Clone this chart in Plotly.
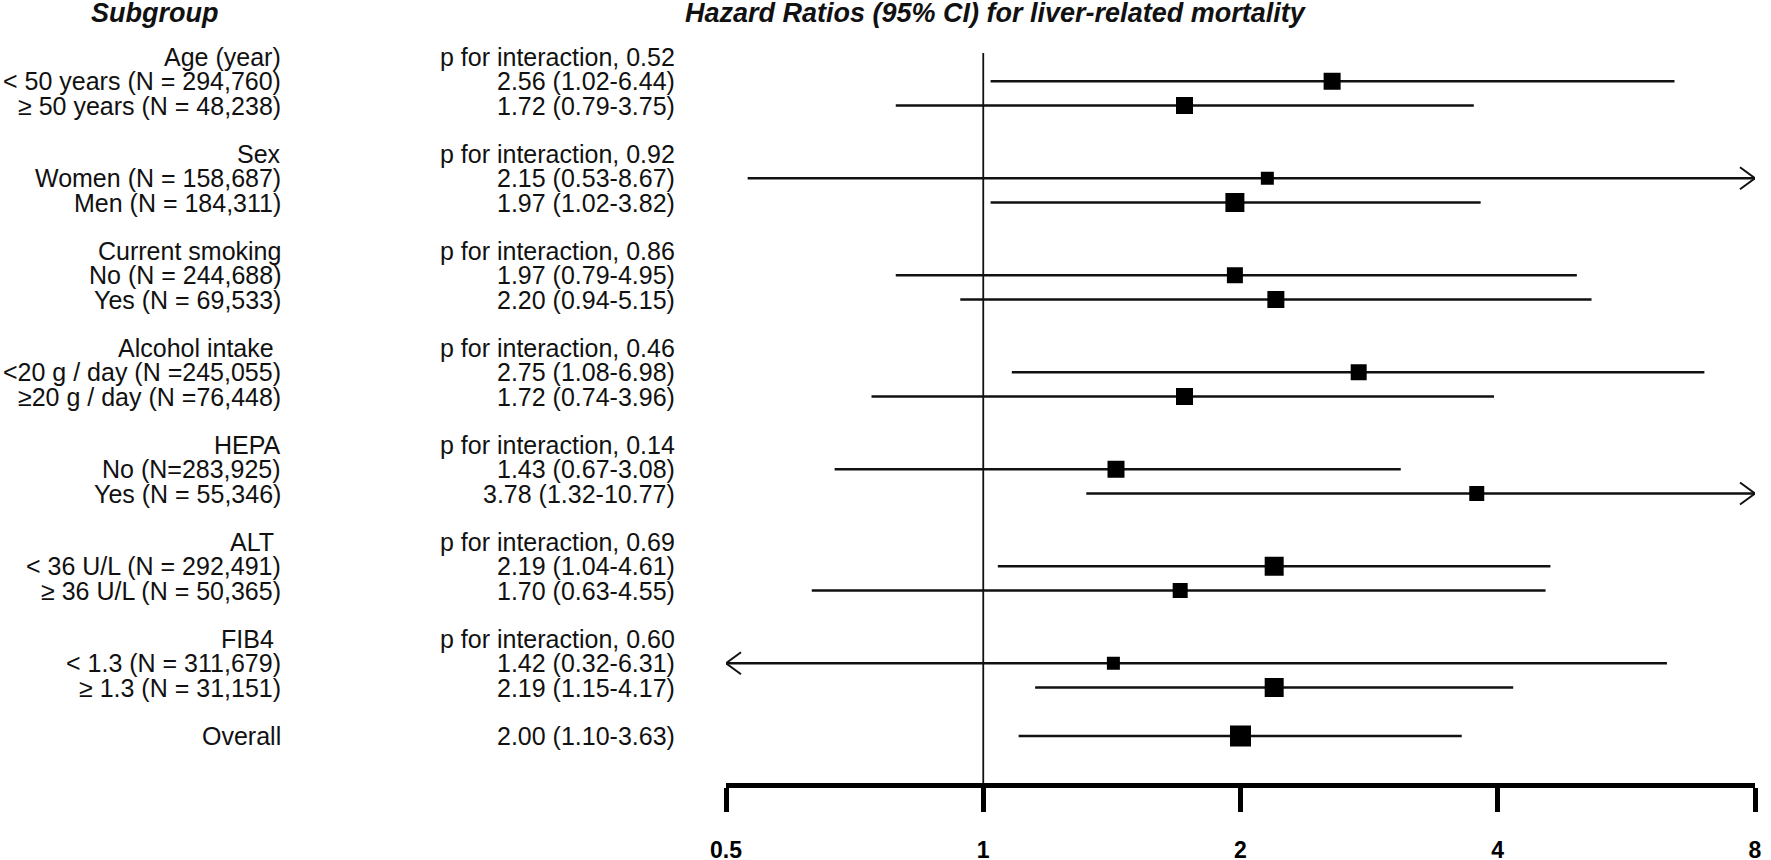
import math
import plotly.graph_objects as go

# ---------------- data ----------------
groups = ["Age (year)", "Sex", "Current smoking", "Alcohol intake ", "HEPA", "ALT ", "FIB4 "]
p_interaction = ["0.52", "0.92", "0.86", "0.46", "0.14", "0.69", "0.60"]
subgroups = [
    "< 50 years (N = 294,760)", "≥ 50 years (N = 48,238)",
    "Women (N = 158,687)", "Men (N = 184,311)",
    "No (N = 244,688)", "Yes (N = 69,533)",
    "<20 g / day (N =245,055)", "≥20 g / day (N =76,448)",
    "No (N=283,925)", "Yes (N = 55,346)",
    "< 36 U/L (N = 292,491)", "≥ 36 U/L (N = 50,365)",
    "< 1.3 (N = 311,679)", "≥ 1.3 (N = 31,151)",
    "Overall",
]
hr = [2.56, 1.72, 2.15, 1.97, 1.97, 2.20, 2.75, 1.72, 1.43, 3.78, 2.19, 1.70, 1.42, 2.19, 2.00]
ci_low = [1.02, 0.79, 0.53, 1.02, 0.79, 0.94, 1.08, 0.74, 0.67, 1.32, 1.04, 0.63, 0.32, 1.15, 1.10]
ci_high = [6.44, 3.75, 8.67, 3.82, 4.95, 5.15, 6.98, 3.96, 3.08, 10.77, 4.61, 4.55, 6.31, 4.17, 3.63]
tick_vals = [0.5, 1, 2, 4, 8]
tick_text = ["0.5", "1", "2", "4", "8"]
null_value = 1

# ---------------- style ----------------
box_px = [17, 17, 13, 19, 16, 17, 16, 17, 17, 15, 19, 15, 13, 19, 21]
FONT = "Liberation Sans"
TXT = "#111111"
W, H = 1771, 860
ML, MR, MT, MB = 726, 16, 53, 77
ROW_PX = 24.25
FIRST_ROW_PX = 57

# row layout: header, two subgroups, blank ... then Overall
header_rows = [4 * g for g in range(len(groups))]
sub_rows = []
for g in range(len(groups)):
    sub_rows += [4 * g + 1, 4 * g + 2]
sub_rows.append(4 * len(groups))

xmin, xmax = tick_vals[0], tick_vals[-1]

fig = go.Figure()

# CI lines (clipped to axis limits)
xs, ys = [], []
for r, lo, hi in zip(sub_rows, ci_low, ci_high):
    xs += [max(lo, xmin), min(hi, xmax), None]
    ys += [r, r, None]
fig.add_trace(go.Scatter(x=xs, y=ys, mode="lines",
                         line=dict(color="#111111", width=2.6),
                         hoverinfo="skip", showlegend=False))

# point estimates
fig.add_trace(go.Scatter(x=hr, y=sub_rows, mode="markers",
                         marker=dict(symbol="square", size=box_px, color="#000000",
                                     opacity=1, line=dict(width=0)),
                         opacity=1, cliponaxis=False, showlegend=False))

shapes = []
# reference line at HR = 1
shapes.append(dict(type="line", xref="x", yref="paper", x0=null_value, x1=null_value,
                   y0=0, y1=1, line=dict(color="#111111", width=1.8)))
# arrows for truncated CIs
for r, lo, hi in zip(sub_rows, ci_low, ci_high):
    if hi > xmax:
        shapes.append(dict(type="path", xref="x", yref="y", xsizemode="pixel",
                           ysizemode="pixel", xanchor=xmax, yanchor=r,
                           path="M-15,11 L0,0 L-15,-11",
                           line=dict(color="#111111", width=2)))
    if lo < xmin:
        shapes.append(dict(type="path", xref="x", yref="y", xsizemode="pixel",
                           ysizemode="pixel", xanchor=xmin, yanchor=r,
                           path="M15,11 L0,0 L15,-11",
                           line=dict(color="#111111", width=2)))

plot_w = W - ML - MR
def paper_x(px):
    return (px - ML) / plot_w

annotations = []
lab_x = paper_x(283)
est_x = paper_x(677)
for g, r in zip(groups, header_rows):
    annotations.append(dict(x=lab_x, y=r, xref="paper", yref="y", text=g,
                            showarrow=False, xanchor="right", yanchor="middle"))
for g, r, p in zip(groups, header_rows, p_interaction):
    annotations.append(dict(x=est_x, y=r, xref="paper", yref="y",
                            text=f"p for interaction, {p}",
                            showarrow=False, xanchor="right", yanchor="middle"))
for s, r, h, lo, hi in zip(subgroups, sub_rows, hr, ci_low, ci_high):
    annotations.append(dict(x=lab_x, y=r, xref="paper", yref="y", text=s,
                            showarrow=False, xanchor="right", yanchor="middle"))
    annotations.append(dict(x=est_x, y=r, xref="paper", yref="y",
                            text=f"{h:.2f} ({lo:.2f}-{hi:.2f})",
                            showarrow=False, xanchor="right", yanchor="middle"))
for a in annotations:
    a["font"] = dict(family=FONT, size=25, color=TXT)

# column titles
annotations.append(dict(x=paper_x(154), y=1, xref="paper", yref="paper", yshift=MT - 13,
                        text="<b><i>Subgroup</i></b>", showarrow=False,
                        xanchor="center", yanchor="middle",
                        font=dict(family=FONT, size=27, color=TXT)))
annotations.append(dict(x=paper_x(996), y=1, xref="paper", yref="paper", yshift=MT - 13,
                        text="<b><i>Hazard Ratios (95% CI) for liver-related mortality</i></b>",
                        showarrow=False, xanchor="center", yanchor="middle",
                        font=dict(family=FONT, size=27, color=TXT)))

top_row = (MT - FIRST_ROW_PX) / ROW_PX
bottom_row = (H - MB - FIRST_ROW_PX) / ROW_PX

fig.update_layout(
    width=W, height=H,
    margin=dict(l=ML, r=MR, t=MT, b=MB, autoexpand=False),
    paper_bgcolor="white", plot_bgcolor="white",
    showlegend=False,
    shapes=shapes,
    annotations=annotations,
    xaxis=dict(type="log",
               range=[math.log10(xmin) - 1e-6, math.log10(xmax) + 1e-6],
               tickvals=tick_vals, ticktext=tick_text,
               ticks="outside", ticklen=24, tickwidth=4.5, tickcolor="black",
               showline=True, linewidth=4.5, linecolor="black",
               showgrid=False, zeroline=False,
               ticklabelstandoff=19, ticklabeloverflow="allow",
               tickfont=dict(family=FONT, size=23, color="black", weight="bold")),
    yaxis=dict(range=[bottom_row, top_row], visible=False, showgrid=False,
               zeroline=False),
)

fig.write_html("out.html",
               config={"displayModeBar": False},
               post_script="document.body.style.margin='0';document.body.style.overflow='hidden';")
